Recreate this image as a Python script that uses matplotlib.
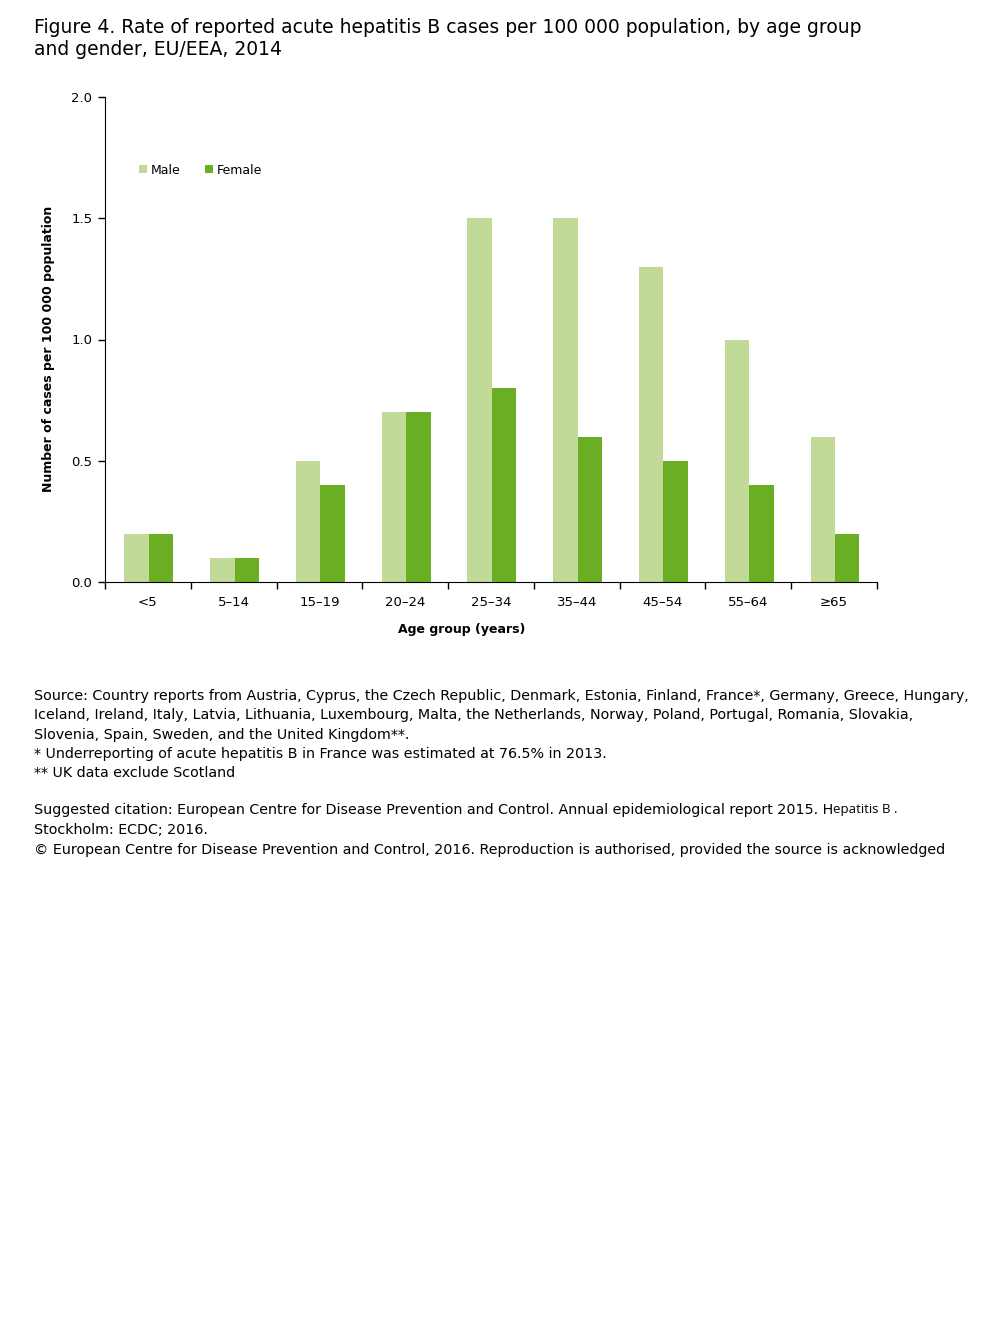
import numpy as np
import matplotlib
matplotlib.use("Agg")
from matplotlib import pyplot as plt

age_groups = ['<5', '5\u201314', '15\u201319', '20\u201324', '25\u201334', '35\u201344', '45\u201354', '55\u201364', '\u226565']
male = [0.2, 0.1, 0.5, 0.7, 1.5, 1.5, 1.3, 1.0, 0.6]
female = [0.2, 0.1, 0.4, 0.7, 0.8, 0.6, 0.5, 0.4, 0.2]
y_ticks = [0.0, 0.5, 1.0, 1.5, 2.0]

title = ("Figure 4. Rate of reported acute hepatitis B cases per 100 000 population, by age group\n"
         "and gender, EU/EEA, 2014")
notes = ["Source: Country reports from Austria, Cyprus, the Czech Republic, Denmark, Estonia, Finland, France*, Germany, Greece, Hungary,",
         "Iceland, Ireland, Italy, Latvia, Lithuania, Luxembourg, Malta, the Netherlands, Norway, Poland, Portugal, Romania, Slovakia,",
         "Slovenia, Spain, Sweden, and the United Kingdom**.",
         "* Underreporting of acute hepatitis B in France was estimated at 76.5% in 2013.",
         "** UK data exclude Scotland"]
citation = ["Suggested citation: European Centre for Disease Prevention and Control. Annual epidemiological report 2015. H",
            "Stockholm: ECDC; 2016.",
            "\u00a9 European Centre for Disease Prevention and Control, 2016. Reproduction is authorised, provided the source is acknowledged"]

plt.rcParams['font.family'] = ['DejaVu Sans']

W, H = 1008, 1344
fig = plt.figure(figsize=(W / 100, H / 100), dpi=100)
ax = fig.add_axes([105 / W, 1 - 582 / H, 772 / W, 485 / H])

x = np.arange(len(age_groups))
bw = 0.285
ax.bar(x - bw / 2 + 0.01, male, bw, color='#c1da98', label='Male')
ax.bar(x + bw / 2 + 0.01, female, bw, color='#6aaf23', label='Female')

ax.set_xlim(-0.5, len(age_groups) - 0.5)
ax.set_ylim(0, 2.0)
ax.set_yticks(y_ticks)
ax.set_yticklabels(['%.1f' % v for v in y_ticks], fontsize=9.5)
ax.set_xticks(x)
ax.set_xticklabels(age_groups, fontsize=9.5)
ax.set_xticks(np.arange(len(age_groups) + 1) - 0.5, minor=True)
ax.tick_params(axis='x', which='major', length=0, pad=10)
ax.tick_params(axis='x', which='minor', length=5, width=1, direction='out')
ax.tick_params(axis='y', length=5, width=1, direction='out', pad=4)
for s in ['top', 'right']:
    ax.spines[s].set_visible(False)
ax.set_xlabel('Age group (years)', fontsize=9, fontweight='bold')
ax.xaxis.set_label_coords(0.462, -0.085)
ax.set_ylabel('Number of cases per 100 000 population', fontsize=9, fontweight='bold')
ax.yaxis.set_label_coords(-0.065, 0.481)

ax.legend(loc='upper left', bbox_to_anchor=(0.03, 0.886), ncol=2, frameon=False,
          fontsize=9, handlelength=0.6, handleheight=0.6, handletextpad=0.3,
          columnspacing=2.0)

fig.text(34 / W, 1 - 18 / H, title, fontsize=13.5, va='top', ha='left', linespacing=1.2)

y0 = 696
for i, line in enumerate(notes):
    fig.text(34 / W, 1 - (y0 + i * 19.3) / H, line, fontsize=10.3, va='center', ha='left')

y1 = 810
t = None
for i, line in enumerate(citation):
    yy = 1 - (y1 + i * 20) / H
    tt = fig.text(34 / W, yy, line, fontsize=10.3, va='center', ha='left')
    if i == 0:
        t = tt

fig.canvas.draw()
bb = t.get_window_extent(fig.canvas.get_renderer())
fig.text(bb.x1 / W, 1 - y1 / H, 'epatitis B .', fontsize=9.5, va='center', ha='left',
         family=['Open Sans', 'DejaVu Sans'])

fig.savefig('out.png', dpi=100)
